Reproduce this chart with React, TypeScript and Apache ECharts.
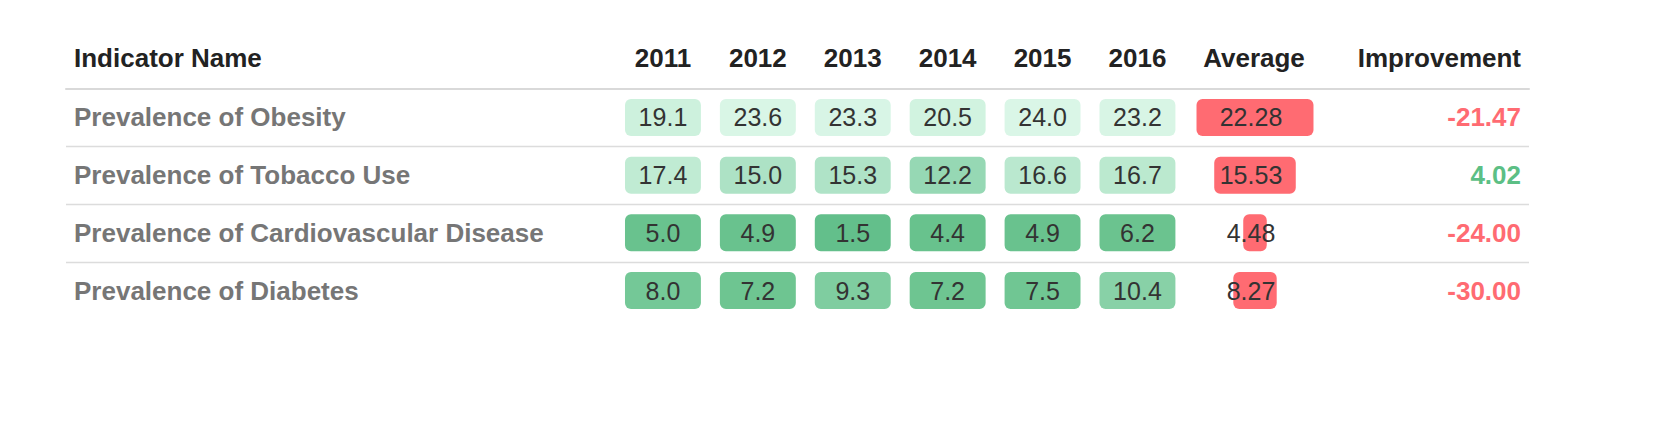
import React, { useEffect, useRef } from "react";
import * as echarts from "echarts";

const indicatorNames = [
  "Prevalence of Obesity",
  "Prevalence of Tobacco Use",
  "Prevalence of Cardiovascular Disease",
  "Prevalence of Diabetes",
];
const years = ["2011", "2012", "2013", "2014", "2015", "2016"];
const obesityValues = [19.1, 23.6, 23.3, 20.5, 24.0, 23.2];
const tobaccoValues = [17.4, 15.0, 15.3, 12.2, 16.6, 16.7];
const cardioValues = [5.0, 4.9, 1.5, 4.4, 4.9, 6.2];
const diabetesValues = [8.0, 7.2, 9.3, 7.2, 7.5, 10.4];
const averageValues = [22.28, 15.53, 4.48, 8.27];
const improvementValues = [-21.47, 4.02, -24.0, -30.0];
const headerLabels = ["Indicator Name", "Average", "Improvement"];

const FONT = '"Liberation Sans", Arial, Helvetica, sans-serif';
const RED = "#ff6b72";
const GREEN = "#5cbf85";

export default function App() {
  const ref = useRef<HTMLDivElement>(null);
  useEffect(() => {
    document.body.style.margin = "0";
    const chart = echarts.init(ref.current!, null, { renderer: "svg" });
    const rowsValues = [obesityValues, tobaccoValues, cardioValues, diabetesValues];
    const yearData: number[][] = [];
    rowsValues.forEach((vals, r) => vals.forEach((v, c) => yearData.push([c, r, v])));
    const rowData = indicatorNames.map((_, i) => [0, i, improvementValues[i]]);
    const avgData = averageValues.map((v, i) => [0, i, v]);

    const top = 88.6;
    const height = 230.8;
    const n = indicatorNames.length;

    const option: any = {
      animation: false,
      grid: [
        { left: 66, top, width: 1463, height },
        { left: 615.5, top, width: 569.4, height },
        { left: 1176.25, top, width: 157.5, height },
      ],
      xAxis: [
        {
          gridIndex: 0,
          type: "value",
          min: 0,
          max: 1,
          position: "top",
          axisLine: { show: true, lineStyle: { color: "#d9d9d9", width: 2 } },
          axisTick: { show: false },
          axisLabel: { show: false },
          splitLine: { show: false },
        },
        {
          gridIndex: 1,
          type: "category",
          data: years,
          position: "top",
          axisLine: { show: false },
          axisTick: { show: false },
          splitLine: { show: false },
          axisLabel: {
            margin: 30.6,
            verticalAlign: "middle",
            fontFamily: FONT,
            fontWeight: "bold",
            fontSize: 26,
            color: "#222",
          },
        },
        {
          gridIndex: 2,
          type: "value",
          min: -15,
          max: 15,
          show: false,
        },
      ],
      yAxis: [0, 1, 2].map((g) => ({
        gridIndex: g,
        type: "category",
        data: indicatorNames,
        inverse: true,
        show: false,
      })),
      visualMap: {
        type: "continuous",
        show: false,
        seriesIndex: 1,
        dimension: 2,
        min: 1,
        max: 25,
        inRange: { color: ["#62bf8a", "#6cc490", "#9ddbb9", "#cdf1dd", "#dcf7e9"] },
      },
      graphic: [
        {
          type: "text",
          x: 74,
          y: 58,
          style: { text: headerLabels[0], font: `bold 26px ${FONT}`, fill: "#222", align: "left", verticalAlign: "middle" },
        },
        {
          type: "text",
          x: 1254,
          y: 58,
          style: { text: headerLabels[1], font: `bold 26px ${FONT}`, fill: "#222", align: "center", verticalAlign: "middle" },
        },
        {
          type: "text",
          x: 1521,
          y: 58,
          style: { text: headerLabels[2], font: `bold 26px ${FONT}`, fill: "#222", align: "right", verticalAlign: "middle" },
        },
      ],
      series: [
        {
          type: "custom",
          xAxisIndex: 0,
          yAxisIndex: 0,
          data: rowData,
          renderItem: (params: any, api: any) => {
            const row = api.value(1);
            const imp = api.value(2);
            const l = api.coord([0, row]);
            const r = api.coord([1, row]);
            const bandH = api.size([0, 1])[1];
            const children: any[] = [
              {
                type: "text",
                x: l[0] + 8,
                y: l[1],
                style: { text: indicatorNames[row], font: `bold 26px ${FONT}`, fill: "#767676", align: "left", verticalAlign: "middle" },
              },
              {
                type: "text",
                x: r[0] - 8,
                y: r[1],
                style: { text: imp.toFixed(2), font: `bold 26px ${FONT}`, fill: imp < 0 ? RED : GREEN, align: "right", verticalAlign: "middle" },
              },
            ];
            if (row < n - 1) {
              const y = Math.round(l[1] + bandH / 2) + 0.5;
              children.push({
                type: "line",
                shape: { x1: l[0], y1: y, x2: r[0], y2: y },
                style: { stroke: "#dcdcdc", lineWidth: 1.5 },
              });
            }
            return { type: "group", children };
          },
        },
        {
          type: "custom",
          xAxisIndex: 1,
          yAxisIndex: 1,
          data: yearData,
          renderItem: (params: any, api: any) => {
            const c = api.coord([api.value(0), api.value(1)]);
            const band = api.size([1, 1]);
            const w = band[0] * 0.8;
            const h = 37;
            return {
              type: "group",
              children: [
                {
                  type: "rect",
                  shape: { x: c[0] - w / 2, y: c[1] - h / 2, width: w, height: h, r: 6 },
                  style: { fill: api.visual("color") },
                },
                {
                  type: "text",
                  x: c[0],
                  y: c[1],
                  style: { text: api.value(2).toFixed(1), font: `25px ${FONT}`, fill: "#333", align: "center", verticalAlign: "middle" },
                },
              ],
            };
          },
        },
        {
          type: "custom",
          xAxisIndex: 2,
          yAxisIndex: 2,
          data: avgData,
          renderItem: (params: any, api: any) => {
            const c = api.coord([0, api.value(1)]);
            const v = api.value(2);
            const w = api.size([v, 0])[0];
            const h = 37;
            return {
              type: "group",
              children: [
                {
                  type: "rect",
                  shape: { x: c[0] - w / 2, y: c[1] - h / 2, width: w, height: h, r: 6 },
                  style: { fill: RED },
                },
                {
                  type: "text",
                  x: c[0] - 4,
                  y: c[1],
                  style: { text: v.toFixed(2), font: `25px ${FONT}`, fill: "#333", align: "center", verticalAlign: "middle" },
                },
              ],
            };
          },
        },
      ],
    };
    chart.setOption(option);
    return () => chart.dispose();
  }, []);
  return <div ref={ref} style={{ width: 1664, height: 448 }} />;
}
